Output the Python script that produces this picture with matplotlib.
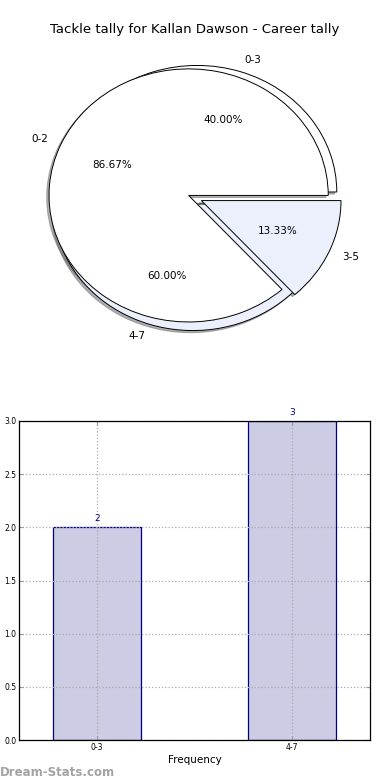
import matplotlib
matplotlib.use("Agg")
import matplotlib.pyplot as plt

title = "Tackle tally for Kallan Dawson - Career tally"
pie1_labels = ["0-3", "4-7"]
pie1_values = [2, 3]
pie2_labels = ["0-2", "3-5"]
pie2_values = [13, 2]
bar_labels = ["0-3", "4-7"]
bar_values = [2, 3]

light = "#ebf0fc"
fig = plt.figure(figsize=(3.9, 7.8), dpi=100)

# Pie axes
axp = fig.add_axes([13.5 / 390, 417.5 / 780, 363 / 390, 329 / 780])
kw = dict(autopct="%.2f%%", shadow=dict(ox=-0.012, oy=-0.012, shade=0.6),
          startangle=0,
          wedgeprops=dict(edgecolor="black", linewidth=0.7),
          textprops=dict(fontsize=7.5))
axp.pie(pie1_values, labels=pie1_labels, explode=[0.05, 0.05],
        colors=["white", light], **kw)
axp.pie(pie2_values, labels=pie2_labels, explode=[0.05, 0.05],
        colors=["white", light], **kw)
axp.set_aspect("auto")
axp.set_xlim(-1.3, 1.3)
axp.set_ylim(-1.3, 1.3)
axp.set_axis_off()
fig.text(0.5, 1 - 30 / 780, title, ha="center", va="center", fontsize=9.5)

# Bar axes
axb = fig.add_axes([19 / 390, 40 / 780, 351 / 390, 319 / 780])
x = list(range(len(bar_values)))
axb.bar(x, bar_values, width=0.45, color="#ccccE4", edgecolor="navy",
        linewidth=0.9, zorder=1)
for xi, v in zip(x, bar_values):
    axb.text(xi, v + 0.04, str(v), ha="center", va="bottom", fontsize=6.5,
             color="navy")
axb.set_xlim(-0.4, 1.4)
axb.set_ylim(0, 3.0)
axb.set_xticks(x)
axb.set_xticklabels(bar_labels)
axb.set_yticks([0, 0.5, 1.0, 1.5, 2.0, 2.5, 3.0])
axb.set_yticklabels(["0.0", "0.5", "1.0", "1.5", "2.0", "2.5", "3.0"])
axb.tick_params(labelsize=5.5, direction="in", top=True, right=True,
                length=3, color="#999999", pad=2)
axb.set_axisbelow("line")
axb.grid(True, linestyle=":", color="#aaaaaa", linewidth=0.9)
for s in axb.spines.values():
    s.set_linewidth(0.9)
    s.set_zorder(3)
axb.set_xlabel("Frequency", fontsize=7.5, labelpad=2)

fig.text(0.0, 8 / 780, "Dream-Stats.com", fontsize=8.5, color="#999999",
         fontweight="bold", ha="left", va="center", alpha=0.9)

fig.savefig("out.png", dpi=100)
